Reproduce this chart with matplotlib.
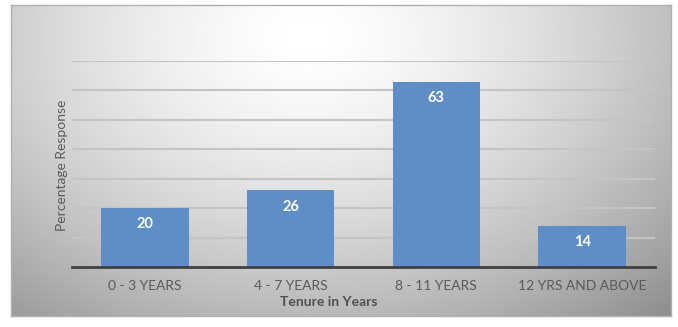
import matplotlib
matplotlib.use('Agg')
import numpy as np
import matplotlib.pyplot as plt

# data
categories = ['0 - 3 YEARS', '4 - 7 YEARS', '8 - 11 YEARS', '12 YRS AND ABOVE']
values = [20, 26, 63, 14]

plt.rcParams['font.family'] = ['Lato', 'DejaVu Sans']

fig = plt.figure(figsize=(6.78, 3.27), dpi=100)

# chart frame with a soft grey gradient
bg = fig.add_axes([11/678, 1-316/327, (671-11)/678, (316-5)/327])
yy, xx = np.mgrid[0:1:200j, 0:1:400j]
d = np.sqrt(((xx-0.45)*1.15)**2 + ((yy-0.1)*0.75)**2)
shade = np.clip(1.0 - 0.5*d**1.5, 0.0, 1.0)
bg.imshow(shade, cmap='gray', vmin=0, vmax=1, aspect='auto',
          extent=[0, 1, 0, 1], interpolation='bilinear')
bg.set_xticks([])
bg.set_yticks([])
for s in bg.spines.values():
    s.set_color('#b0b0b0')
    s.set_linewidth(1)

ax = fig.add_axes([72/678, 1-267/327, (655-72)/678, (267-61)/327])
ax.patch.set_alpha(0)
ind = np.arange(len(categories))
bars = ax.bar(ind, values, width=0.6, color='#5f8ec6', zorder=3)
ax.set_xlim(-0.5, len(categories)-0.5)
ax.set_ylim(0, 70)
ax.set_yticks(np.arange(10, 80, 10))
ax.yaxis.grid(True, color='#c4c4c4', linewidth=1.5, zorder=0)
ax.tick_params(axis='y', left=False, labelleft=False)
ax.tick_params(axis='x', length=0, pad=9, labelsize=10, labelcolor='#5a5a5a')
ax.set_xticks(ind)
ax.set_xticklabels(categories)
for side in ['top', 'right', 'left']:
    ax.spines[side].set_visible(False)
ax.spines['bottom'].set_color('#404040')
ax.spines['bottom'].set_linewidth(2)
ax.spines['bottom'].set_zorder(4)

for b, v in zip(bars, values):
    ax.text(b.get_x()+b.get_width()/2, v-5.5, str(v), ha='center', va='center',
            color='white', fontsize=10.5, fontweight='bold', zorder=5)

fig.text(62/678, 1-165/327, 'Percentage Response', rotation=90, ha='center',
         va='center', fontsize=10, color='#5a5a5a')
fig.text(329/678, 1-302/327, 'Tenure in Years', ha='center', va='center',
         fontsize=10, fontweight='bold', color='#505050')

plt.savefig('out.png', dpi=100)
